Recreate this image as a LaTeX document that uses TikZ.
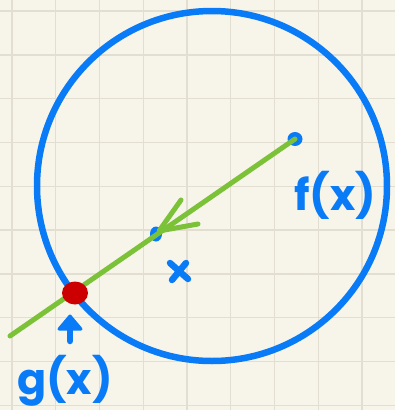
\documentclass[tikz,border=0pt]{standalone}
\usepackage{fontspec}
\newfontfamily\handfont{Poppins}
\definecolor{paper}{HTML}{F7F5EA}
\definecolor{gridc}{HTML}{E2DFD2}
\definecolor{penblue}{HTML}{0A7BF7}
\definecolor{pengreen}{HTML}{7CC238}
\definecolor{penred}{HTML}{CC0000}
\begin{document}
\begin{tikzpicture}[x=1pt,y=-1pt,
  gridline/.style={gridc,line width=1.4pt},
  bluepen/.style={penblue,line width=6.5pt,line cap=round,line join=round},
  greenpen/.style={pengreen,line width=5pt,line cap=round,line join=round},
  hand/.style={text=penblue,font=\handfont\bfseries\fontsize{43}{43}\selectfont,inner sep=0pt}]
\fill[paper] (0,0) rectangle (395,410);
\useasboundingbox (0,0) rectangle (395,410);
\foreach \k in {0,...,8} \draw[gridline] ({12+43.75*\k},0) -- ({12+43.75*\k},410);
\foreach \k in {0,...,9} \draw[gridline] (0,{11+43.8*\k}) -- (395,{11+43.8*\k});
% circle
\coordinate (C) at (212,186);
\draw[bluepen] (C) circle[radius=175];
% line ends
\coordinate (A) at (10,336);
\coordinate (B) at (295,139);
\fill[penblue] (B) ellipse[x radius=7.5,y radius=7];
\coordinate (M) at (156,234);
\fill[penblue] (M) ellipse[x radius=6,y radius=7.5];
\draw[greenpen] (A) -- (B);
% arrow head
\coordinate (T) at (159,231);
\coordinate (T1) at (181,200);
\coordinate (T2) at (198,224);
\draw[greenpen] (T1) -- (T) -- (T2);
% red point
\coordinate (P) at (75,293);
\fill[penred] (P) ellipse[x radius=13,y radius=11.5];
% x mark
\coordinate (X1) at (170,263);
\coordinate (X2) at (188,279);
\coordinate (X3) at (186,263);
\coordinate (X4) at (172,280);
\draw[bluepen] (X1) -- (X2) (X3) -- (X4);
% up arrow
\coordinate (U0) at (70,341);
\coordinate (U1) at (70,326);
\coordinate (UT) at (70,316);
\coordinate (UL) at (59,329);
\coordinate (UR) at (81,329);
\draw[bluepen] (U0) -- (U1);
\filldraw[penblue,line width=3pt,line join=round] (UT) -- (UL) -- (UR) -- cycle;
% labels
\node[hand] (f) at (335,195) {f(x)};
\node[hand] (g) at (65,381) {g(x)};
\end{tikzpicture}
\end{document}
